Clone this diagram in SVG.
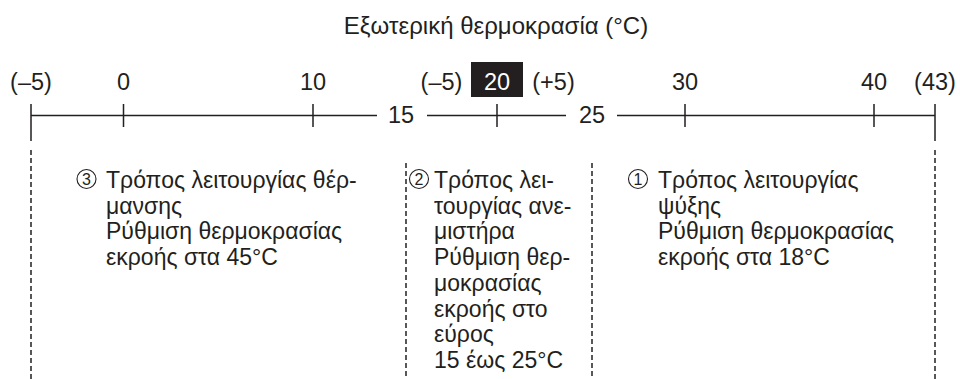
<svg xmlns="http://www.w3.org/2000/svg" width="960" height="379" viewBox="0 0 960 379">
<style>
text{font-family:"Liberation Sans","DejaVu Sans",sans-serif;font-size:23px;fill:#231f20}
.c{text-anchor:middle}
.w{fill:#ffffff}
.t{font-size:24px}
.s{font-size:23.5px}
.n{font-size:16px;text-anchor:middle}
.ring{fill:none;stroke:#231f20;stroke-width:1.1}
.ln{stroke:#231f20;stroke-width:1.5;fill:none}
.dash{stroke:#231f20;stroke-width:1.5;stroke-dasharray:5 3;fill:none}
</style>
<rect width="960" height="379" fill="#ffffff"/>
<g id="title"><text class="c t" x="496" y="34">Εξωτερική θερμοκρασία (°C)</text></g>
<g id="connectors">
<path class="ln" d="M31 115.5H377M427 115.5H566M617 115.5H935"/>
<path class="ln" d="M31 104V141M935 104V141M123.5 104V127M313 104V127M497 104V127M685 104V127M874 104V127"/>
<path class="dash" d="M31 150V379M935 150V379M406 163V379M592 163V379"/>
</g>
<g id="scale-labels">
<text class="c s" x="31" y="90">(–5)</text>
<text class="c s" x="123.5" y="90">0</text>
<text class="c s" x="313" y="90">10</text>
<text class="c s" x="441.5" y="90">(–5)</text>
<rect x="471" y="62" width="52" height="35" fill="#231f20"/>
<text class="c w s" x="497" y="90">20</text>
<text class="c s" x="553.5" y="90">(+5)</text>
<text class="c s" x="685" y="90">30</text>
<text class="c s" x="874" y="90">40</text>
<text class="c s" x="935" y="90">(43)</text>
<text class="c s" x="401" y="123">15</text>
<text class="c s" x="592" y="123">25</text>
</g>
<g id="heating">
<circle class="ring" cx="86.5" cy="179" r="9.5"/>
<text class="n" x="86.5" y="185">3</text>
<text y="188"><tspan x="106">Τρόπος λειτουργίας θέρ-</tspan><tspan x="106" dy="25.7">μανσης</tspan><tspan x="106" dy="25.7">Ρύθμιση θερμοκρασίας</tspan><tspan x="106" dy="25.7">εκροής στα 45°C</tspan></text>
</g>
<g id="fan">
<circle class="ring" cx="419" cy="179" r="9.5"/>
<text class="n" x="419" y="185">2</text>
<text y="188"><tspan x="434">Τρόπος λει-</tspan><tspan x="434" dy="25.7">τουργίας ανε-</tspan><tspan x="434" dy="25.7">μιστήρα</tspan><tspan x="434" dy="25.7">Ρύθμιση θερ-</tspan><tspan x="434" dy="25.7">μοκρασίας</tspan><tspan x="434" dy="25.7">εκροής στο</tspan><tspan x="434" dy="25.7">εύρος</tspan><tspan x="434" dy="25.7">15 έως 25°C</tspan></text>
</g>
<g id="cooling">
<circle class="ring" cx="638" cy="179" r="9.5"/>
<text class="n" x="638" y="185">1</text>
<text y="188"><tspan x="658">Τρόπος λειτουργίας</tspan><tspan x="658" dy="25.7">ψύξης</tspan><tspan x="658" dy="25.7">Ρύθμιση θερμοκρασίας</tspan><tspan x="658" dy="25.7">εκροής στα 18°C</tspan></text>
</g>
</svg>
